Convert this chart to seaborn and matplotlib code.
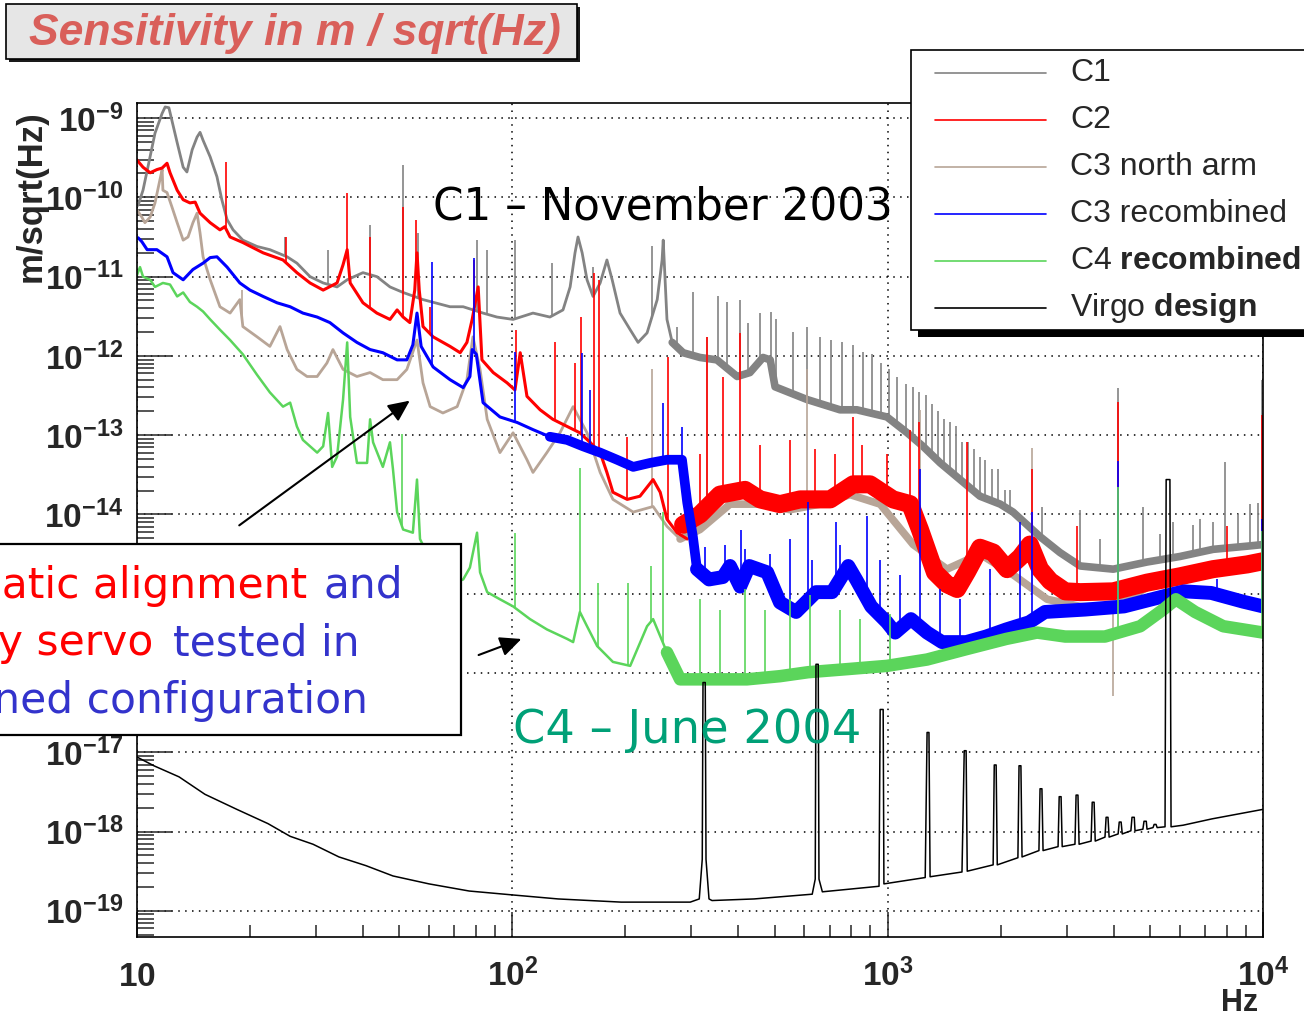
import numpy as np
import pandas as pd
import matplotlib
matplotlib.use("Agg")
import matplotlib.pyplot as plt
from matplotlib.patches import Rectangle, FancyArrowPatch
from matplotlib.lines import Line2D
from matplotlib.ticker import FixedLocator, NullFormatter
import seaborn as sns

# ---------------- data: log10(frequency / Hz), log10(ASD / m/sqrt(Hz)) ----------------
c1_logf = [1.003, 1.016, 1.029, 1.048, 1.067, 1.075, 1.085, 1.093, 1.107, 1.123, 1.133, 1.147, 1.160, 1.168, 1.176,
           1.195, 1.213, 1.226, 1.240, 1.256, 1.282, 1.320, 1.354, 1.400, 1.426, 1.461, 1.496, 1.533, 1.560, 1.602,
           1.639, 1.674, 1.709, 1.762, 1.834, 1.869, 1.922, 1.959, 2.002, 2.055, 2.100, 2.135, 2.154, 2.167, 2.175,
           2.186, 2.199, 2.215, 2.234, 2.252, 2.266, 2.287, 2.314, 2.335, 2.359, 2.386, 2.399, 2.402, 2.412, 2.426,
           2.455, 2.500, 2.545, 2.599, 2.633, 2.668, 2.687, 2.700, 2.785, 2.873, 2.918, 2.998, 3.052, 3.094, 3.140,
           3.193, 3.246, 3.300, 3.334, 3.406, 3.459, 3.513, 3.601, 3.691, 3.779, 3.867, 3.958, 4.000]
c1_loga = [-10.10, -9.91, -9.62, -9.19, -8.94, -8.86, -8.87, -9.03, -9.31, -9.62, -9.68, -9.40, -9.24, -9.18, -9.28,
           -9.49, -9.74, -10.03, -10.28, -10.41, -10.54, -10.62, -10.66, -10.75, -10.83, -11.00, -11.08, -11.13, -11.04, -10.95,
           -11.00, -11.13, -11.20, -11.29, -11.38, -11.38, -11.46, -11.51, -11.54, -11.46, -11.51, -11.42, -11.13, -10.70, -10.50,
           -10.70, -11.04, -11.25, -11.08, -10.79, -11.04, -11.46, -11.67, -11.83, -11.71, -11.29, -10.79, -10.54, -11.54, -11.83,
           -11.96, -12.02, -12.05, -12.26, -12.21, -12.02, -12.05, -12.39, -12.55, -12.68, -12.68, -12.77, -12.97, -13.14, -13.35,
           -13.56, -13.77, -13.87, -13.97, -14.28, -14.48, -14.65, -14.69, -14.60, -14.53, -14.44, -14.40, -14.38]
c1_spike_logf = [1.394, 1.509, 1.621, 1.709, 1.749, 1.906, 1.933, 2.007, 2.106, 2.215, 2.372, 2.439, 2.481, 2.548, 2.572,
                 2.607, 2.628, 2.660, 2.689, 2.703, 2.748, 2.785, 2.820, 2.849, 2.879, 2.908, 2.934, 2.958, 2.982, 3.004,
                 3.025, 3.049, 3.068, 3.084, 3.102, 3.118, 3.134, 3.150, 3.166, 3.182, 3.198, 3.214, 3.230, 3.246, 3.260,
                 3.278, 3.294, 3.313, 3.326, 3.411, 3.513, 3.566, 3.614, 3.680, 3.726, 3.760, 3.814, 3.832, 3.867, 3.899,
                 3.934, 3.966, 3.987, 3.997]
c1_spike_loga = [-10.50, -10.66, -10.35, -9.59, -10.45, -10.54, -10.66, -10.54, -10.83, -10.88, -10.62, -11.64, -11.19, -11.25, -11.32,
                 -11.29, -11.58, -11.46, -11.44, -11.54, -11.70, -11.64, -11.76, -11.80, -11.83, -11.86, -11.95, -11.98, -12.09, -12.17,
                 -12.26, -12.36, -12.39, -12.46, -12.49, -12.61, -12.70, -12.80, -12.83, -12.89, -13.08, -13.08, -13.18, -13.27, -13.31,
                 -13.43, -13.43, -13.69, -13.69, -13.90, -13.94, -14.31, -12.40, -13.90, -14.25, -14.10, -14.13, -14.06, -14.09, -13.34,
                 -14.00, -13.87, -13.85, -12.30]

c2_logf = [1.000, 1.016, 1.035, 1.053, 1.067, 1.080, 1.088, 1.107, 1.123, 1.141, 1.155, 1.168, 1.195, 1.221, 1.234,
           1.248, 1.282, 1.336, 1.389, 1.426, 1.461, 1.496, 1.533, 1.549, 1.560, 1.568, 1.602, 1.639, 1.674, 1.693,
           1.709, 1.727, 1.740, 1.746, 1.752, 1.762, 1.789, 1.834, 1.861, 1.879, 1.893, 1.909, 1.919, 1.949, 1.986,
           2.007, 2.021, 2.039, 2.074, 2.108, 2.146, 2.180, 2.207, 2.234, 2.252, 2.268, 2.306, 2.340, 2.375, 2.394,
           2.412, 2.439, 2.466]
c2_loga = [-9.53, -9.62, -9.69, -9.65, -9.63, -9.57, -9.69, -9.91, -10.03, -10.07, -10.06, -10.20, -10.32, -10.41, -10.37,
           -10.50, -10.57, -10.70, -10.79, -10.95, -11.08, -11.17, -11.08, -10.85, -10.66, -11.08, -11.33, -11.46, -11.54, -11.42,
           -11.51, -11.58, -11.17, -10.70, -11.17, -11.63, -11.76, -11.88, -11.96, -11.83, -11.54, -11.13, -12.05, -12.21, -12.34,
           -12.43, -11.96, -12.51, -12.68, -12.80, -12.89, -12.97, -13.09, -13.22, -13.47, -13.72, -13.81, -13.77, -13.56, -13.72,
           -14.06, -14.23, -14.31]
c2_band_logf = [2.455, 2.500, 2.553, 2.620, 2.660, 2.713, 2.767, 2.847, 2.908, 2.953, 3.014, 3.060, 3.086, 3.126, 3.158,
                3.185, 3.212, 3.246, 3.281, 3.318, 3.353, 3.379, 3.406, 3.433, 3.473, 3.513, 3.601, 3.691, 3.779, 3.867,
                3.958, 4.000]
c2_band_loga = [-14.13, -14.00, -13.75, -13.69, -13.81, -13.87, -13.81, -13.81, -13.62, -13.62, -13.81, -13.87, -14.19, -14.73, -14.88,
                -14.94, -14.72, -14.42, -14.48, -14.69, -14.54, -14.38, -14.69, -14.84, -14.97, -14.98, -14.97, -14.86, -14.78, -14.69,
                -14.63, -14.59]
c2_spike_logf = [1.237, 1.397, 1.560, 1.621, 1.709, 1.743, 1.781, 1.898, 2.010, 2.114, 2.167, 2.183, 2.218, 2.231, 2.306,
                 2.415, 2.500, 2.519, 2.561, 2.607, 2.660, 2.740, 2.807, 2.860, 2.908, 2.932, 2.998, 3.060, 3.084, 3.212,
                 3.385, 3.505, 3.614, 3.904, 3.997]
c2_spike_loga = [-9.55, -10.50, -9.94, -10.50, -10.12, -10.28, -11.38, -10.79, -11.67, -11.82, -12.09, -11.51, -10.95, -11.04, -13.02,
                 -12.01, -13.24, -11.76, -12.26, -11.71, -13.12, -13.06, -13.18, -13.24, -12.77, -13.12, -13.24, -12.93, -12.84, -13.08,
                 -13.43, -14.15, -12.58, -14.15, -12.74]

c3n_logf = [1.000, 1.013, 1.021, 1.035, 1.048, 1.061, 1.067, 1.069, 1.080, 1.093, 1.107, 1.123, 1.136, 1.149, 1.160,
            1.168, 1.176, 1.195, 1.221, 1.248, 1.274, 1.282, 1.320, 1.354, 1.381, 1.400, 1.426, 1.453, 1.480, 1.506,
            1.522, 1.549, 1.586, 1.621, 1.655, 1.693, 1.719, 1.746, 1.762, 1.781, 1.815, 1.853, 1.879, 1.895, 1.914,
            1.933, 1.967, 2.002, 2.039, 2.055, 2.092, 2.127, 2.162, 2.199, 2.234, 2.268, 2.322, 2.375, 2.412, 2.447,
            2.500, 2.580, 2.660, 2.740, 2.820, 2.900, 2.980, 3.068, 3.158, 3.246, 3.334, 3.425, 3.513, 3.601, 3.699,
            3.832, 4.000]
c3n_loga = [-10.16, -10.25, -10.32, -10.25, -10.07, -9.78, -9.65, -9.91, -9.94, -10.12, -10.32, -10.54, -10.50, -10.32, -10.20,
            -10.45, -10.75, -11.04, -11.38, -11.46, -11.29, -11.63, -11.76, -11.88, -11.63, -11.92, -12.17, -12.26, -12.26, -12.09,
            -11.92, -12.17, -12.26, -12.21, -12.30, -12.30, -12.17, -11.80, -12.34, -12.64, -12.72, -12.64, -12.30, -11.76, -12.17,
            -12.80, -13.22, -12.97, -13.31, -13.47, -13.22, -12.97, -12.64, -12.97, -13.47, -13.81, -13.97, -13.90, -14.15, -14.31,
            -14.19, -13.87, -13.87, -13.94, -13.87, -13.75, -13.87, -14.38, -14.69, -14.50, -14.76, -15.07, -15.16, -15.16, -14.90,
            -14.75, -14.62]
c3n_spike_logf = [1.280, 2.372, 2.519, 2.785, 3.086, 3.385, 3.601]
c3n_spike_loga = [-11.17, -12.17, -11.76, -12.17, -12.68, -13.16, -16.29]

c3r_logf = [1.003, 1.013, 1.027, 1.053, 1.080, 1.096, 1.123, 1.149, 1.176, 1.195, 1.213, 1.240, 1.274, 1.301, 1.336,
            1.373, 1.408, 1.442, 1.480, 1.514, 1.549, 1.586, 1.621, 1.655, 1.693, 1.719, 1.735, 1.746, 1.757, 1.789,
            1.834, 1.869, 1.887, 1.893, 1.904, 1.922, 1.967, 2.013, 2.055, 2.100, 2.146, 2.188, 2.234, 2.279, 2.322,
            2.367, 2.412, 2.452, 2.466, 2.481, 2.492, 2.524, 2.561, 2.580, 2.607, 2.631, 2.679, 2.713, 2.756, 2.809,
            2.852, 2.895, 2.916, 2.956, 2.998, 3.020, 3.062, 3.105, 3.145, 3.209, 3.262, 3.316, 3.377, 3.419, 3.526,
            3.630, 3.737, 3.790, 3.862, 3.947, 4.000]
c3r_loga = [-10.51, -10.56, -10.66, -10.66, -10.75, -10.95, -11.04, -10.91, -10.83, -10.76, -10.75, -10.88, -11.08, -11.17, -11.25,
            -11.33, -11.38, -11.46, -11.51, -11.58, -11.71, -11.83, -11.92, -11.96, -12.05, -12.05, -11.86, -11.46, -11.88, -12.14,
            -12.30, -12.40, -12.26, -11.92, -11.98, -12.59, -12.77, -12.84, -12.93, -13.02, -13.06, -13.14, -13.22, -13.31, -13.40,
            -13.35, -13.31, -13.31, -13.85, -14.28, -14.69, -14.82, -14.79, -14.65, -14.91, -14.65, -14.73, -15.11, -15.23, -14.98,
            -14.98, -14.65, -14.82, -15.16, -15.36, -15.49, -15.32, -15.49, -15.61, -15.61, -15.54, -15.45, -15.36, -15.23, -15.20,
            -15.16, -15.03, -14.97, -14.99, -15.10, -15.16]
c3r_spike_logf = [1.786, 1.898, 2.007, 2.186, 2.207, 2.402, 2.452, 2.514, 2.567, 2.609, 2.620, 2.687, 2.740, 2.788, 2.799,
                  2.862, 2.873, 2.945, 2.980, 3.033, 3.086, 3.140, 3.193, 3.273, 3.353, 3.385, 3.614, 3.878, 3.997]
c3r_spike_loga = [-10.81, -10.76, -11.95, -11.96, -12.43, -12.59, -12.90, -14.41, -14.38, -14.19, -14.44, -14.50, -14.31, -13.84, -14.57,
                  -14.10, -14.38, -14.02, -14.57, -14.76, -13.43, -14.94, -15.07, -14.69, -14.10, -13.97, -13.33, -14.82, -14.06]

c4_logf = [1.000, 1.008, 1.016, 1.035, 1.048, 1.069, 1.088, 1.107, 1.123, 1.141, 1.160, 1.176, 1.195, 1.221, 1.248,
           1.282, 1.320, 1.354, 1.389, 1.408, 1.426, 1.442, 1.480, 1.496, 1.509, 1.520, 1.533, 1.549, 1.560, 1.568,
           1.586, 1.613, 1.621, 1.629, 1.655, 1.674, 1.682, 1.693, 1.709, 1.735, 1.746, 1.754, 1.781, 1.834, 1.869,
           1.887, 1.906, 1.914, 1.933, 1.967, 2.002, 2.047, 2.092, 2.146, 2.162, 2.180, 2.199, 2.226, 2.268, 2.314,
           2.359, 2.375, 2.412, 2.447, 2.535, 2.625, 2.713, 2.788, 2.895, 2.998, 3.105, 3.209, 3.316, 3.398, 3.473,
           3.579, 3.673, 3.734, 3.768, 3.819, 3.894, 4.000]
c4_loga = [-10.98, -10.88, -11.00, -11.04, -11.13, -11.08, -11.10, -11.25, -11.20, -11.32, -11.38, -11.44, -11.54, -11.67, -11.80,
           -11.98, -12.24, -12.46, -12.64, -12.59, -12.89, -13.06, -13.22, -13.14, -12.72, -13.40, -13.27, -12.55, -11.83, -12.77,
           -13.35, -13.35, -12.80, -13.09, -13.40, -13.09, -13.43, -13.97, -14.19, -14.23, -13.56, -14.31, -14.57, -14.88, -14.82,
           -14.67, -14.23, -14.73, -14.98, -15.07, -15.16, -15.32, -15.45, -15.57, -15.61, -15.23, -15.41, -15.66, -15.86, -15.91,
           -15.41, -15.32, -15.74, -16.08, -16.08, -16.08, -16.04, -15.99, -15.95, -15.91, -15.83, -15.70, -15.57, -15.49, -15.54,
           -15.54, -15.41, -15.20, -15.07, -15.23, -15.41, -15.49]
c4_spike_logf = [1.706, 2.007, 2.180, 2.229, 2.309, 2.370, 2.402, 2.500, 2.553, 2.620, 2.673, 2.740, 2.793, 2.873, 2.926,
                 3.006, 3.614, 3.997]
c4_spike_loga = [-12.99, -14.23, -13.41, -14.86, -14.86, -14.65, -13.97, -15.07, -15.20, -14.94, -15.20, -15.07, -15.01, -15.20, -15.32,
                 -15.26, -13.65, -14.21]

vd_logf = [1.000, 1.045, 1.112, 1.181, 1.266, 1.349, 1.408, 1.469, 1.538, 1.610, 1.682, 1.778, 1.885, 2.002, 2.122,
           2.290, 2.474, 2.498, 2.506, 2.508, 2.514, 2.516, 2.524, 2.532, 2.644, 2.799, 2.807, 2.809, 2.815, 2.817,
           2.826, 2.977, 2.980, 2.988, 2.990, 3.100, 3.105, 3.110, 3.113, 3.198, 3.204, 3.209, 3.212, 3.281, 3.284,
           3.289, 3.292, 3.347, 3.350, 3.355, 3.358, 3.403, 3.406, 3.411, 3.414, 3.454, 3.457, 3.462, 3.465, 3.499,
           3.502, 3.507, 3.510, 3.542, 3.545, 3.550, 3.553, 3.579, 3.582, 3.587, 3.590, 3.614, 3.617, 3.622, 3.625,
           3.648, 3.651, 3.657, 3.659, 3.680, 3.683, 3.689, 3.691, 3.707, 3.710, 3.715, 3.718, 3.739, 3.742, 3.752,
           3.755, 3.787, 3.864, 4.000]
vd_loga = [-17.06, -17.17, -17.31, -17.53, -17.72, -17.90, -18.06, -18.16, -18.32, -18.43, -18.56, -18.66, -18.75, -18.80, -18.85,
           -18.89, -18.89, -18.85, -18.35, -16.12, -16.12, -18.35, -18.85, -18.87, -18.85, -18.79, -18.60, -15.89, -15.89, -18.60,
           -18.76, -18.69, -16.46, -16.46, -18.66, -18.58, -16.75, -16.75, -18.57, -18.51, -16.98, -16.98, -18.50, -18.42, -17.16,
           -17.16, -18.42, -18.33, -17.17, -17.17, -18.32, -18.24, -17.46, -17.46, -18.24, -18.19, -17.56, -17.56, -18.19, -18.16,
           -17.54, -17.54, -18.16, -18.12, -17.63, -17.63, -18.12, -18.07, -17.82, -17.82, -18.07, -18.03, -17.88, -17.88, -18.03,
           -17.99, -17.82, -17.82, -17.99, -17.97, -17.87, -17.87, -17.97, -17.95, -17.91, -17.91, -17.95, -17.94, -13.56, -13.56,
           -17.94, -17.92, -17.84, -17.72]

legend_labels = ["C1", "C2", "C3 north arm", "C3 recombined", r"C4 $\mathbf{recombined}$", r"Virgo $\mathbf{design}$"]
x_ticks = [10, 100, 1000, 10000]
x_ticklabels = [r"$10$", r"$10^{2}$", r"$10^{3}$", r"$10^{4}$"]
y_exponents = list(range(-9, -20, -1))
y_hidden_labels = [-15, -16]   # covered by the annotation box in the reference

# ---------------- style ----------------
COL_C1 = "#838383"
COL_C2 = "#ff0000"
COL_C3N = "#b8a597"
COL_C3R = "#0000ff"
COL_C4 = "#5bd55b"
COL_VD = "#000000"

sns.set_style("white")
plt.rcParams["font.family"] = ["Liberation Sans", "DejaVu Sans"]
plt.rcParams["mathtext.fontset"] = "custom"
plt.rcParams["mathtext.rm"] = "Liberation Sans:bold"
plt.rcParams["mathtext.bf"] = "Liberation Sans:bold"
plt.rcParams["mathtext.it"] = "Liberation Sans:bold:italic"
plt.rcParams["mathtext.default"] = "rm"

W, H = 1304, 1017
fig = plt.figure(figsize=(W / 100, H / 100), dpi=100, facecolor="white")


def fx(px):
    return px / W


def fy(py):
    return 1 - py / H


ax = fig.add_axes([fx(137), fy(937), (1263 - 137) / W, (937 - 103) / H])
ax.set_xscale("log")
ax.set_yscale("log")


def trace(logf, loga, color, lw, z, fmin=None, fmax=None):
    lf = np.asarray(logf, float)
    la = np.asarray(loga, float)
    m = np.ones(lf.shape, bool)
    if fmin is not None:
        m &= lf >= fmin
    if fmax is not None:
        m &= lf <= fmax
    df = pd.DataFrame({"freq": 10 ** lf[m], "asd": 10 ** la[m]})
    sns.lineplot(data=df, x="freq", y="asd", ax=ax, color=color, linewidth=lw, estimator=None,
                 sort=False, legend=False, zorder=z, solid_joinstyle="round")


def spikes(sf, sa, base_f, base_a, color, z, lw=1.2):
    bf = np.asarray(base_f, float)
    ba = np.asarray(base_a, float)
    o = np.argsort(bf)
    base = np.interp(np.asarray(sf, float), bf[o], ba[o])
    ax.vlines(10 ** np.asarray(sf, float), 10 ** base, 10 ** np.asarray(sa, float),
              colors=color, linewidth=lw, zorder=z)


# C1
trace(c1_logf, c1_loga, COL_C1, 2.0, 2)
trace(c1_logf, c1_loga, COL_C1, 5.5, 2, fmin=2.42)
spikes(c1_spike_logf, c1_spike_loga, c1_logf, c1_loga, COL_C1, 2)
# C3 north arm
trace(c3n_logf, c3n_loga, COL_C3N, 2.0, 3)
trace(c3n_logf, c3n_loga, COL_C3N, 5.5, 3, fmin=2.44)
spikes(c3n_spike_logf, c3n_spike_loga, c3n_logf, c3n_loga, COL_C3N, 3)
# C2
trace(c2_logf, c2_loga, COL_C2, 2.2, 4)
trace(c2_band_logf, c2_band_loga, COL_C2, 13.0, 4)
spikes(c2_spike_logf, c2_spike_loga, c2_logf + c2_band_logf[1:], c2_loga + c2_band_loga[1:], COL_C2, 4)
# C3 recombined
trace(c3r_logf, c3r_loga, COL_C3R, 2.2, 5)
trace(c3r_logf, c3r_loga, COL_C3R, 7.0, 5, fmin=2.10)
trace(c3r_logf, c3r_loga, COL_C3R, 10.0, 5, fmin=2.49)
spikes(c3r_spike_logf, c3r_spike_loga, c3r_logf, c3r_loga, COL_C3R, 5)
# C4
trace(c4_logf, c4_loga, COL_C4, 1.8, 6)
trace(c4_logf, c4_loga, COL_C4, 9.0, 6, fmin=2.40)
spikes(c4_spike_logf, c4_spike_loga, c4_logf, c4_loga, COL_C4, 6)
# Virgo design
trace(vd_logf, vd_loga, COL_VD, 1.1, 7)

ax.set_xlim(10, 1e4)
ax.set_ylim(10 ** -19.33, 10 ** -8.81)
ax.set_xlabel("")
ax.set_ylabel("")

# ticks
ax.xaxis.set_major_locator(FixedLocator(x_ticks))
ax.set_xticklabels(x_ticklabels)
x_minor = [d * 10 ** k for k in range(1, 4) for d in range(2, 10)]
ax.xaxis.set_minor_locator(FixedLocator(x_minor))
ax.xaxis.set_minor_formatter(NullFormatter())
y_major = [10.0 ** e for e in y_exponents]
ax.yaxis.set_major_locator(FixedLocator(y_major))
ax.set_yticklabels(["" if e in y_hidden_labels else r"$10^{%d}$" % e for e in y_exponents])
y_minor = [d * 10.0 ** k for k in range(-20, -8) for d in range(2, 10)]
ax.yaxis.set_minor_locator(FixedLocator(y_minor))
ax.yaxis.set_minor_formatter(NullFormatter())

ax.tick_params(axis="x", which="major", direction="in", length=18, width=1.1, pad=35.5,
               labelsize=24, bottom=True, top=False)
ax.tick_params(axis="x", which="minor", direction="in", length=9, width=1.1, bottom=True, top=False)
ax.tick_params(axis="y", which="major", direction="in", length=25, width=1.1, pad=10,
               labelsize=24, left=True, right=False)
ax.tick_params(axis="y", which="minor", direction="in", length=12, width=1.1, left=True, right=False)
for t in ax.get_xticklabels():
    t.set_verticalalignment("baseline")

ax.grid(True, which="major", color="black", linestyle=(0, (1, 3.5)), linewidth=1.1)
ax.set_axisbelow(True)
for s in ax.spines.values():
    s.set_linewidth(1.2)
    s.set_color("black")
    s.set_zorder(10)

# axis titles
fig.text(fx(31), fy(196), "m/sqrt(Hz)", rotation=90, ha="center", va="center",
         fontsize=25, fontweight="bold")
fig.text(fx(1240), fy(1003), "Hz", ha="center", va="center", fontsize=22, fontweight="bold")

# title box
fig.add_artist(Rectangle((fx(9), fy(62)), (580 - 9) / W, (62 - 7) / H, transform=fig.transFigure,
                         facecolor="#1a1a1a", edgecolor="none", zorder=15))
fig.add_artist(Rectangle((fx(6), fy(59)), (577 - 6) / W, (59 - 4) / H, transform=fig.transFigure,
                         facecolor="#e6e6e6", edgecolor="black", linewidth=1.2, zorder=16))
fig.text(fx(295), fy(34), "Sensitivity in m / sqrt(Hz)", ha="center", va="center", fontsize=32,
         fontweight="bold", style="italic", color="#d95f5a", zorder=17)

# legend box
fig.add_artist(Rectangle((fx(918), fy(337)), (1320 - 918) / W, 7 / H, transform=fig.transFigure,
                         facecolor="black", edgecolor="none", zorder=15))
fig.add_artist(Rectangle((fx(911), fy(330)), (1330 - 911) / W, (330 - 50) / H, transform=fig.transFigure,
                         facecolor="white", edgecolor="black", linewidth=1.2, zorder=16))
leg_cols = [COL_C1, COL_C2, COL_C3N, COL_C3R, COL_C4, COL_VD]
leg_y = [73, 120, 167, 214, 261, 308]
for lab, col, yy in zip(legend_labels, leg_cols, leg_y):
    fig.add_artist(Line2D([fx(935), fx(1046)], [fy(yy), fy(yy)], transform=fig.transFigure,
                          color=col, linewidth=1.2, zorder=17))
    fig.text(fx(1070), fy(yy), lab, ha="left", va="center", fontsize=23, zorder=17)

# annotations
ann_font = "DejaVu Sans"
fig.text(fx(433), fy(220), "C1 \u2013 November 2003", ha="left", va="baseline", fontsize=31.4,
         family=ann_font, color="black", zorder=20)
fig.text(fx(513), fy(743), "C4 \u2013 June 2004", ha="left", va="baseline", fontsize=33.4,
         family=ann_font, color="#00a077", zorder=20)

fig.add_artist(Rectangle((fx(-10), fy(735)), (461 + 10) / W, (735 - 544) / H, transform=fig.transFigure,
                         facecolor="white", edgecolor="black", linewidth=1.6, zorder=18))
RED_T = "#ff0000"
BLUE_T = "#3333cc"
BOX_FS = 30.5
fig.text(fx(307), fy(598), "Automatic alignment", ha="right", va="baseline", fontsize=BOX_FS,
         family=ann_font, color=RED_T, zorder=20)
fig.text(fx(324), fy(598), "and", ha="left", va="baseline", fontsize=BOX_FS, family=ann_font,
         color=BLUE_T, zorder=20)
fig.text(fx(153), fy(655), "frequency servo", ha="right", va="baseline", fontsize=BOX_FS,
         family=ann_font, color=RED_T, zorder=20)
fig.text(fx(173), fy(655), "tested in", ha="left", va="baseline", fontsize=BOX_FS, family=ann_font,
         color=BLUE_T, zorder=20)
fig.text(fx(368), fy(713), "recombined configuration", ha="right", va="baseline", fontsize=BOX_FS,
         family=ann_font, color=BLUE_T, zorder=20)

fig.add_artist(FancyArrowPatch((fx(237), fy(527)), (fx(412), fy(399)), transform=fig.transFigure,
                               arrowstyle="-|>,head_length=0.65,head_width=0.3", mutation_scale=20,
                               color="black", linewidth=1.5, zorder=19))
fig.add_artist(FancyArrowPatch((fx(476), fy(656)), (fx(524), fy(638)), transform=fig.transFigure,
                               arrowstyle="-|>,head_length=0.65,head_width=0.3", mutation_scale=20,
                               color="black", linewidth=1.5, zorder=19))

fig.savefig("out.png", dpi=100, facecolor="white")
